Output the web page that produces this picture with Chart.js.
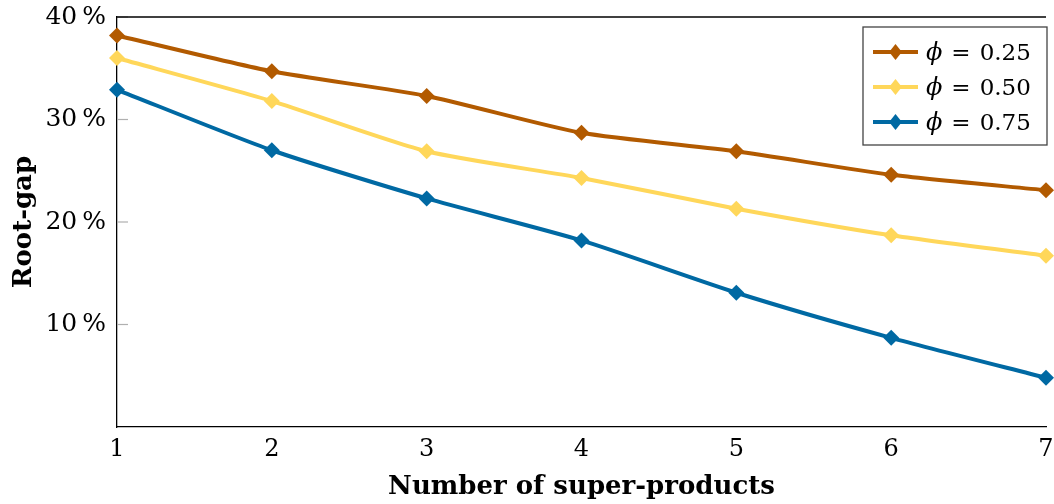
<!DOCTYPE html>
<html>
<head>
<meta charset="utf-8">
<script src="https://cdn.jsdelivr.net/npm/chart.js@4.4.1/dist/chart.umd.min.js"></script>
<style>
  html, body { margin: 0; padding: 0; background: #fff; }
  #wrap { width: 1054px; height: 504px; position: relative; }
</style>
</head>
<body>
<div id="wrap"><canvas id="c" width="1054" height="504"></canvas></div>
<script>
const superProducts = [1, 2, 3, 4, 5, 6, 7];
const gapPhi025 = [38.2, 34.7, 32.3, 28.7, 26.9, 24.6, 23.1];
const gapPhi050 = [36.0, 31.8, 26.9, 24.3, 21.3, 18.7, 16.7];
const gapPhi075 = [32.9, 27.0, 22.3, 18.2, 13.1, 8.7, 4.8];
const seriesLabels = ['ϕ = 0.25', 'ϕ = 0.50', 'ϕ = 0.75'];
const yTickValues = [10, 20, 30, 40];

const colors = ['#b25a00', '#ffd75a', '#0069a3'];
const serif = "'DejaVu Serif', serif";

function toPoints(vals) { return superProducts.map((x, i) => ({ x: x, y: vals[i] })); }

const series = [gapPhi025, gapPhi050, gapPhi075];
const datasets = series.map((vals, i) => ({
  label: seriesLabels[i],
  data: toPoints(vals),
  borderColor: colors[i],
  backgroundColor: colors[i],
  borderWidth: 4,
  pointStyle: 'rectRot',
  pointRadius: 8,
  pointHoverRadius: 8,
  pointBorderWidth: 0,
  tension: 0.22,
  borderJoinStyle: 'round',
  clip: false
}));

const framePlugin = {
  id: 'frame',
  beforeDatasetsDraw(chart) {
    const { ctx, chartArea: a, scales } = chart;
    ctx.save();
    ctx.strokeStyle = '#b0b0b0';
    ctx.lineWidth = 1.2;
    yTickValues.forEach(v => {
      const y = scales.y.getPixelForValue(v);
      ctx.beginPath();
      ctx.moveTo(a.left, y);
      ctx.lineTo(a.left + 11, y);
      ctx.stroke();
    });
    ctx.strokeStyle = '#000';
    ctx.lineWidth = 1.3;
    ctx.beginPath();
    ctx.moveTo(a.left, a.top);
    ctx.lineTo(a.right, a.top);
    ctx.stroke();
    ctx.restore();
  },
  afterDatasetsDraw(chart) {
    const { ctx } = chart;
    const bx = 863, by = 27, bw = 184, bh = 118;
    ctx.save();
    ctx.fillStyle = '#fff';
    ctx.fillRect(bx, by, bw, bh);
    ctx.strokeStyle = '#444';
    ctx.lineWidth = 1.3;
    ctx.strokeRect(bx, by, bw, bh);
    chart.data.datasets.forEach((ds, i) => {
      const cy = 52 + i * 35;
      ctx.strokeStyle = ds.borderColor;
      ctx.fillStyle = ds.borderColor;
      ctx.lineWidth = 4;
      ctx.beginPath();
      ctx.moveTo(873, cy);
      ctx.lineTo(918, cy);
      ctx.stroke();
      const cx = 895.5, r = 8;
      ctx.beginPath();
      ctx.moveTo(cx, cy - r); ctx.lineTo(cx + r * 0.8, cy); ctx.lineTo(cx, cy + r); ctx.lineTo(cx - r * 0.8, cy);
      ctx.closePath(); ctx.fill();
      ctx.fillStyle = '#000';
      ctx.textBaseline = 'alphabetic';
      ctx.textAlign = 'left';
      const lbl = ds.label;
      ctx.font = "italic 24px " + serif;
      ctx.fillText(lbl.charAt(0), 926, cy + 8);
      const w = ctx.measureText(lbl.charAt(0)).width;
      ctx.font = "23px " + serif;
      const rest = lbl.slice(1).trim().split(' ');
      ctx.fillText(rest[0], 926 + w + 9, cy + 8);
      const w2 = ctx.measureText(rest[0]).width;
      ctx.fillText(rest[1], 926 + w + 9 + w2 + 9, cy + 8);
    });
    ctx.restore();
  }
};

new Chart(document.getElementById('c'), {
  type: 'line',
  data: { datasets: datasets },
  options: {
    responsive: false,
    animation: false,
    layout: { padding: { top: 17, right: 6, left: 0, bottom: 0 } },
    plugins: { legend: { display: false }, tooltip: { enabled: false } },
    scales: {
      x: {
        type: 'linear', min: 1, max: 7,
        afterFit(s) { s.height = 77; s.paddingLeft = 0; s.paddingRight = 0; },
        grid: { display: false, drawTicks: false },
        border: { display: true, color: '#000', width: 1.3 },
        ticks: { stepSize: 1, padding: 8, color: '#000', font: { family: serif, size: 24 } },
        title: { display: true, text: 'Number of super-products', color: '#000',
                 font: { family: serif, size: 26, weight: 'bold' }, padding: { top: 0, bottom: 1 } }
      },
      y: {
        type: 'linear', min: 0, max: 40,
        afterFit(s) { s.width = 117; s.paddingTop = 0; s.paddingBottom = 0; },
        afterBuildTicks(s) { s.ticks = yTickValues.map(v => ({ value: v })); },
        grid: { display: false, drawTicks: false },
        border: { display: true, color: '#000', width: 1.3 },
        ticks: { padding: 11, color: '#000', font: { family: serif, size: 25 },
                 callback: v => v + '\u2009%' },
        title: { display: true, text: 'Root-gap', color: '#000',
                 font: { family: serif, size: 26, weight: 'bold' }, padding: { top: 9, bottom: 0 } }
      }
    }
  },
  plugins: [framePlugin]
});
</script>
</body>
</html>
